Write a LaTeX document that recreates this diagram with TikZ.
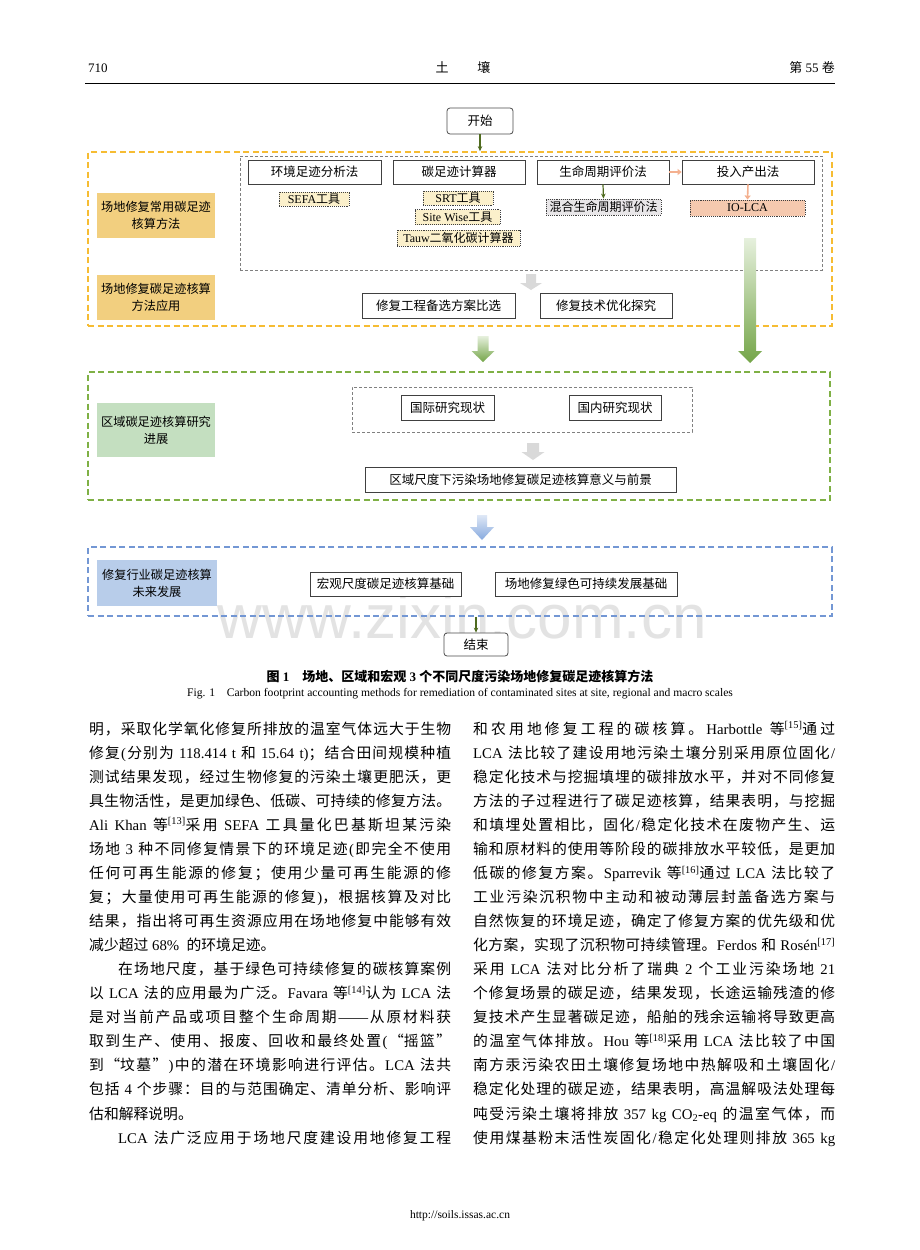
\documentclass[tikz,border=0pt]{standalone}
\usepackage{fontspec}
\usetikzlibrary{arrows.meta}
\setmainfont{Liberation Serif}
\newfontfamily\cjkf{Noto Sans CJK SC}
\newfontfamily\wmf{Liberation Sans}
\makeatletter
\def\savedfam{\rmdefault}
\def\cjkon{\edef\savedfam{\f@family}\cjkf}
\def\cjkoff{\fontfamily{\savedfam}\selectfont}
\makeatother
\newcommand\cg{\hskip 0pt plus 1.5pt\relax}
\newcount\cjkc
\cjkc="4E00
\loop \XeTeXcharclass\cjkc=1 \advance\cjkc by 1 \ifnum\cjkc<"A000 \repeat
\XeTeXcharclass"FF0C=3
\XeTeXcharclass"3002=3
\XeTeXcharclass"3001=3
\XeTeXcharclass"FF1B=3
\XeTeXcharclass"FF1A=3
\XeTeXcharclass"201C=2
\XeTeXcharclass"201D=3
\XeTeXcharclass"2014=0
\XeTeXcharclass`\(=0
\XeTeXcharclass`\)=0
\XeTeXcharclass`\[=0
\XeTeXcharclass`\]=0
\XeTeXcharclass`\.=0
\XeTeXcharclass`\,=0
\XeTeXcharclass`\;=0
\XeTeXcharclass`\:=0
\XeTeXcharclass`\/=0
\XeTeXcharclass`\%=0
\XeTeXcharclass`\-=0
\XeTeXinterchartokenstate=1
\XeTeXinterchartoks 0 1 = {\cjkon\cg}
\XeTeXinterchartoks 0 2 = {\cjkon\cg}
\XeTeXinterchartoks 0 3 = {\cjkon}
\XeTeXinterchartoks 4095 1 = {\cjkon}
\XeTeXinterchartoks 4095 2 = {\cjkon}
\XeTeXinterchartoks 4095 3 = {\cjkon}
\XeTeXinterchartoks 1 0 = {\cg\cjkoff}
\XeTeXinterchartoks 2 0 = {\cjkoff}
\XeTeXinterchartoks 3 0 = {\cg\cjkoff}
\XeTeXinterchartoks 1 4095 = {\cjkoff}
\XeTeXinterchartoks 2 4095 = {\cjkoff}
\XeTeXinterchartoks 3 4095 = {\cjkoff}
\XeTeXinterchartoks 1 1 = {\cg}
\XeTeXinterchartoks 1 2 = {\cg}
\XeTeXinterchartoks 1 3 = {\cg}
\XeTeXinterchartoks 3 1 = {\cg}
\XeTeXinterchartoks 3 2 = {\cg}

\definecolor{orgdash}{HTML}{F6BC33}
\definecolor{labY}{HTML}{F2CF7F}
\definecolor{toolY}{HTML}{FBF0CB}
\definecolor{toolG}{HTML}{E8E6E8}
\definecolor{toolP}{HTML}{F5C9AF}
\definecolor{peach}{HTML}{F4B08F}
\definecolor{dgreen}{HTML}{4F6B1F}
\definecolor{grndash}{HTML}{7FB045}
\definecolor{labG}{HTML}{C4DFC0}
\definecolor{bludash}{HTML}{7397D4}
\definecolor{labB}{HTML}{B8CDEA}
\definecolor{arrG}{HTML}{D9D9D9}
\definecolor{grnTop}{HTML}{E6F0DD}
\definecolor{grnBot}{HTML}{74A548}
\definecolor{bluTop}{HTML}{DFE8F6}
\definecolor{bluBot}{HTML}{86A9DE}
\definecolor{gdash}{HTML}{808080}

\tikzset{
  box/.style={draw=black!75, line width=0.8pt, fill=white, inner sep=0pt, font=\fontsize{12.5}{14}\selectfont},
  lab/.style={inner sep=0pt, align=center, font=\fontsize{12.2}{17}\selectfont},
  tool/.style={draw=black!75, densely dotted, line width=0.9pt, inner sep=0pt, font=\fontsize{12}{13}\selectfont},
  frame/.style={line width=1.7pt, dash pattern=on 6pt off 3.5pt, inner sep=0pt},
  gframe/.style={draw=gdash, line width=1pt, dash pattern=on 3pt off 2pt, inner sep=0pt},
  term/.style={draw=black!70, line width=0.8pt, rounded corners=3pt, inner sep=0pt, font=\fontsize{12.5}{14}\selectfont},
  dg/.style={draw=dgreen, line width=1.2pt, -{Stealth[length=5pt,width=4.5pt]}},
  pc/.style={draw=peach, line width=1.6pt, -{Triangle[length=4pt,width=6pt]}},
  body/.style={anchor=base west, inner sep=0pt, font=\fontsize{14.8}{24}\selectfont},
}
\newcommand\barrow[8]{\shade[top color=#7, bottom color=#8] (#1-#5,#2) -- (#1+#5,#2) -- (#1+#5,#3) -- (#1+#6,#3) -- (#1,#4) -- (#1-#6,#3) -- (#1-#5,#3) -- cycle;}
\newcommand\jl[4]{\node[body] (#1) at (#2,#3) {\makebox[362pt][s]{#4}};}
\newcommand\jli[4]{\node[body] (#1) at (#2,#3) {\makebox[333pt][s]{#4}};}
\newcommand\nl[4]{\node[body] (#1) at (#2,#3) {#4};}

\begin{document}
\begin{tikzpicture}[x=1pt,y=-1pt]
\useasboundingbox (0,0) rectangle (920,1250);
\fill[white] (0,0) rectangle (920,1250);

% watermark
\node[text=black!11, font=\wmf\fontsize{62}{62}\selectfont] (wm) at (462,616) {www.zixin.com.cn};

% header
\node[anchor=base west, inner sep=0pt, font=\fontsize{13}{15}\selectfont] (pg) at (88,72) {710};
\node[anchor=base, inner sep=0pt, font=\fontsize{13}{15}\selectfont] (jn) at (463,72) {土\hspace{2.2em}壤};
\node[anchor=base east, inner sep=0pt, font=\fontsize{13}{15}\selectfont] (vol) at (835,72) {第 55 卷};
\draw[line width=0.8pt] (85,83) -- (835,83);

% start
\node[term, minimum width=66, minimum height=26] (start) at (480,121) {开始};

% orange frame
\node[frame, draw=orgdash, minimum width=744, minimum height=174] (orange) at (460,239) {};
\node[lab, fill=labY, minimum width=118, minimum height=45] (lab1) at (156,215.5) {场地修复常用碳足迹\\核算方法};
\node[lab, fill=labY, minimum width=118, minimum height=45] (lab2) at (156,297.5) {场地修复碳足迹核算\\方法应用};
\node[gframe, minimum width=582, minimum height=114] (gbox) at (531,213) {};
\node[box, minimum width=133, minimum height=24] (m1) at (314.5,172) {环境足迹分析法};
\node[box, minimum width=132, minimum height=24] (m2) at (459,172) {碳足迹计算器};
\node[box, minimum width=132, minimum height=24] (m3) at (603,172) {生命周期评价法};
\node[box, minimum width=132, minimum height=24] (m4) at (748,172) {投入产出法};
\node[tool, fill=toolY, minimum width=70, minimum height=14] (t1) at (314,199) {SEFA工具};
\node[tool, fill=toolY, minimum width=70, minimum height=14] (t2) at (458,198) {SRT工具};
\node[tool, fill=toolY, minimum width=85, minimum height=15] (t3) at (457.5,217) {Site Wise工具};
\node[tool, fill=toolY, minimum width=123, minimum height=16] (t4) at (458.5,238) {Tauw二氧化碳计算器};
\node[tool, fill=toolG, minimum width=115, minimum height=16] (t5) at (603.5,207) {混合生命周期评价法};
\node[tool, fill=toolP, minimum width=115, minimum height=16] (t6) at (747.5,208) {IO-LCA};
\node[box, minimum width=153, minimum height=25] (b1) at (438.5,305.5) {修复工程备选方案比选};
\node[box, minimum width=132, minimum height=25] (b2) at (606,305.5) {修复技术优化探究};

% green frame
\node[frame, draw=grndash, minimum width=742, minimum height=128] (green) at (459,436) {};
\node[lab, fill=labG, minimum width=118, minimum height=54] (lab3) at (156,430) {区域碳足迹核算研究\\进展};
\node[gframe, minimum width=340, minimum height=45] (gbox2) at (522,409.5) {};
\node[box, minimum width=93, minimum height=25] (g1) at (447.5,407.5) {国际研究现状};
\node[box, minimum width=92, minimum height=25] (g2) at (615,407.5) {国内研究现状};
\node[box, minimum width=311, minimum height=25] (g3) at (520.5,479.5) {区域尺度下污染场地修复碳足迹核算意义与前景};

% blue frame
\node[frame, draw=bludash, minimum width=744, minimum height=69] (blue) at (460,581.5) {};
\node[lab, fill=labB, minimum width=120, minimum height=46] (lab4) at (157,583) {修复行业碳足迹核算\\未来发展};
\node[box, minimum width=151, minimum height=24] (u1) at (385.5,584) {宏观尺度碳足迹核算基础};
\node[box, minimum width=182, minimum height=24] (u2) at (586,584) {场地修复绿色可持续发展基础};

% end
\node[term, minimum width=64, minimum height=23, fill=white] (end) at (476,644.5) {结束};

% connectors
\draw[dg] (start.south) -- (start.south |- orange.north);
\draw[dg] (m3.south) -- (t5.north);
\draw[pc] (m3.east) -- (m4.west);
\draw[pc] (m4.south) -- (t6.north);
\draw[dg] (end.north |- blue.south) -- (end.north);

% block arrows
\barrow{531}{274}{283}{290}{5}{11}{arrG}{arrG}
\barrow{533}{443}{452}{460}{6}{11.5}{arrG}{arrG}
\barrow{750}{238}{351}{363}{6}{12}{grnTop}{grnBot}
\barrow{483}{336}{351}{362}{5.5}{11.5}{grnTop}{grnBot}
\barrow{482}{515}{527}{540}{5}{12}{bluTop}{bluBot}

% caption
\node[inner sep=0pt, font=\bfseries\fontsize{13}{15}\selectfont] (cap1) at (460,676) {图 1\quad 场地、区域和宏观 3 个不同尺度污染场地修复碳足迹核算方法};
\node[inner sep=0pt, font=\fontsize{11.6}{14}\selectfont] (cap2) at (460,694) {Fig. 1\quad Carbon footprint accounting methods for remediation of contaminated sites at site, regional and macro scales};

% left column
\jl{L1}{89}{734.0}{明，采取化学氧化修复所排放的温室气体远大于生物}
\jl{L2}{89}{758.1}{修复(分别为 118.414 t 和 15.64 t)；结合田间规模种植}
\jl{L3}{89}{782.1}{测试结果发现，经过生物修复的污染土壤更肥沃，更}
\jl{L4}{89}{806.2}{具生物活性，是更加绿色、低碳、可持续的修复方法。}
\jl{L5}{89}{830.2}{Ali Khan 等\textsuperscript{[13]}采用 SEFA 工具量化巴基斯坦某污染}
\jl{L6}{89}{854.3}{场地 3 种不同修复情景下的环境足迹(即完全不使用}
\jl{L7}{89}{878.4}{任何可再生能源的修复；使用少量可再生能源的修}
\jl{L8}{89}{902.4}{复；大量使用可再生能源的修复)，根据核算及对比}
\jl{L9}{89}{926.5}{结果，指出将可再生资源应用在场地修复中能够有效}
\nl{L10}{89}{950.5}{减少超过 68\%\ \ 的环境足迹。}
\jli{L11}{118}{974.6}{在场地尺度，基于绿色可持续修复的碳核算案例}
\jl{L12}{89}{998.7}{以 LCA 法的应用最为广泛。Favara 等\textsuperscript{[14]}认为 LCA 法}
\jl{L13}{89}{1022.7}{是对当前产品或项目整个生命周期——从原材料获}
\jl{L14}{89}{1046.8}{取到生产、使用、报废、回收和最终处置(“摇篮”}
\jl{L15}{89}{1070.8}{到“坟墓”)中的潜在环境影响进行评估。LCA 法共}
\jl{L16}{89}{1094.9}{包括 4 个步骤：目的与范围确定、清单分析、影响评}
\nl{L17}{89}{1119.0}{估和解释说明。}
\jli{L18}{118}{1143.0}{LCA 法广泛应用于场地尺度建设用地修复工程}

% right column
\jl{R1}{473}{734.0}{和农用地修复工程的碳核算。Harbottle 等\textsuperscript{[15]}通过}
\jl{R2}{473}{758.1}{LCA 法比较了建设用地污染土壤分别采用原位固化/}
\jl{R3}{473}{782.1}{稳定化技术与挖掘填埋的碳排放水平，并对不同修复}
\jl{R4}{473}{806.2}{方法的子过程进行了碳足迹核算，结果表明，与挖掘}
\jl{R5}{473}{830.2}{和填埋处置相比，固化/稳定化技术在废物产生、运}
\jl{R6}{473}{854.3}{输和原材料的使用等阶段的碳排放水平较低，是更加}
\jl{R7}{473}{878.4}{低碳的修复方案。Sparrevik 等\textsuperscript{[16]}通过 LCA 法比较了}
\jl{R8}{473}{902.4}{工业污染沉积物中主动和被动薄层封盖备选方案与}
\jl{R9}{473}{926.5}{自然恢复的环境足迹，确定了修复方案的优先级和优}
\jl{R10}{473}{950.5}{化方案，实现了沉积物可持续管理。Ferdos 和 Rosén\textsuperscript{[17]}}
\jl{R11}{473}{974.6}{采用 LCA 法对比分析了瑞典 2 个工业污染场地 21}
\jl{R12}{473}{998.7}{个修复场景的碳足迹，结果发现，长途运输残渣的修}
\jl{R13}{473}{1022.7}{复技术产生显著碳足迹，船舶的残余运输将导致更高}
\jl{R14}{473}{1046.8}{的温室气体排放。Hou 等\textsuperscript{[18]}采用 LCA 法比较了中国}
\jl{R15}{473}{1070.8}{南方汞污染农田土壤修复场地中热解吸和土壤固化/}
\jl{R16}{473}{1094.9}{稳定化处理的碳足迹，结果表明，高温解吸法处理每}
\jl{R17}{473}{1119.0}{吨受污染土壤将排放 357 kg CO\textsubscript{2}-eq 的温室气体，而}
\jl{R18}{473}{1143.0}{使用煤基粉末活性炭固化/稳定化处理则排放 365 kg}

% footer
\node[inner sep=0pt, font=\fontsize{11.5}{14}\selectfont] (url) at (460,1216) {http://soils.issas.ac.cn};
\end{tikzpicture}
\end{document}
